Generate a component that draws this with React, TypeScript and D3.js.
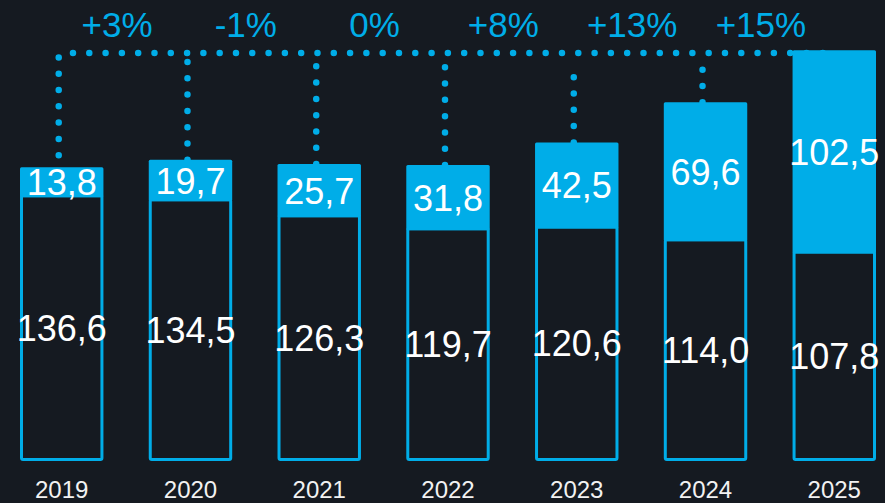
import { useEffect, useRef } from 'react'
import * as d3 from 'd3'

const years = ['2019', '2020', '2021', '2022', '2023', '2024', '2025']
const baseValues = [136.6, 134.5, 126.3, 119.7, 120.6, 114.0, 107.8]
const topValues = [13.8, 19.7, 25.7, 31.8, 42.5, 69.6, 102.5]
const changeLabels = ['+3%', '-1%', '0%', '+8%', '+13%', '+15%']

const width = 885
const height = 503
const BG = '#151a21'
const BLUE = '#00ade8'
const FONT = '"Liberation Sans", Arial, sans-serif'

const fmt = (v: number) => v.toFixed(1).replace('.', ',')

const App = () => {
  const svgRef = useRef<SVGSVGElement>(null)

  useEffect(() => {
    if (!svgRef.current) return
    const svg = d3.select(svgRef.current)
    svg.selectAll('*').remove()

    const x = d3
      .scaleBand()
      .domain(years)
      .range([20, 876])
      .paddingInner(0.352)
      .paddingOuter(0)

    const y = d3.scaleLinear().domain([0, 236]).range([461, 0])

    const data = years.map((yr, i) => ({
      year: yr,
      base: baseValues[i],
      top: topValues[i],
      total: baseValues[i] + topValues[i]
    }))

    const bw = x.bandwidth()
    const cx = (yr: string) => (x(yr) || 0) + bw / 2
    const lineY = 53

    svg.append('rect').attr('width', width).attr('height', height).attr('fill', BG)

    // dotted connectors
    const g = svg
      .append('g')
      .attr('fill', 'none')
      .attr('stroke', BLUE)
      .attr('stroke-width', 6.5)
      .attr('stroke-linecap', 'round')
      .attr('stroke-dasharray', '0 16.3')

    const first = data[0]
    const last = data[data.length - 1]
    g.append('path')
      .attr('d', `M${cx(first.year) - 3},${y(first.total) - 12} V${lineY + 4} Q${cx(first.year) - 3},${lineY} ${cx(first.year) + 8},${lineY} H${cx(last.year) + 4}`)

    g.selectAll('path.drop')
      .data(data.slice(1, -1))
      .enter()
      .append('path')
      .attr('class', 'drop')
      .attr('d', d => `M${cx(d.year) - 3},${y(d.total)} V${lineY + 8}`)

    // percent labels
    svg
      .selectAll('text.chg')
      .data(changeLabels)
      .enter()
      .append('text')
      .attr('class', 'chg')
      .attr('x', (_d, i) => (cx(years[i]) + cx(years[i + 1])) / 2 - 9)
      .attr('y', 37)
      .attr('text-anchor', 'middle')
      .attr('fill', BLUE)
      .attr('font-family', FONT)
      .attr('font-size', 35)
      .text(d => d)

    // bottom outlined segment
    svg
      .selectAll('rect.base')
      .data(data)
      .enter()
      .append('rect')
      .attr('class', 'base')
      .attr('x', d => (x(d.year) || 0) + 1.5)
      .attr('y', d => y(d.base) + 1.5)
      .attr('width', bw - 3)
      .attr('height', d => y(0) - y(d.base) - 3)
      .attr('fill', BG)
      .attr('stroke', BLUE)
      .attr('stroke-width', 3)
      .attr('rx', 1.5)

    // top filled segment
    svg
      .selectAll('rect.top')
      .data(data)
      .enter()
      .append('rect')
      .attr('class', 'top')
      .attr('x', d => x(d.year) || 0)
      .attr('y', d => y(d.total))
      .attr('width', bw)
      .attr('height', d => y(d.base) - y(d.total) + 3)
      .attr('fill', BLUE)
      .attr('rx', 1.5)

    // value labels
    svg
      .selectAll('text.topv')
      .data(data)
      .enter()
      .append('text')
      .attr('class', 'topv')
      .attr('x', d => cx(d.year))
      .attr('y', d => (y(d.total) + y(d.base) + 3) / 2 + 13)
      .attr('text-anchor', 'middle')
      .attr('fill', '#ffffff')
      .attr('font-family', FONT)
      .attr('font-size', 36)
      .text(d => fmt(d.top))

    svg
      .selectAll('text.basev')
      .data(data)
      .enter()
      .append('text')
      .attr('class', 'basev')
      .attr('x', d => cx(d.year))
      .attr('y', d => (y(d.base) + y(0)) / 2 + 13)
      .attr('text-anchor', 'middle')
      .attr('fill', '#ffffff')
      .attr('font-family', FONT)
      .attr('font-size', 36)
      .text(d => fmt(d.base))

    // year axis labels
    svg
      .selectAll('text.year')
      .data(years)
      .enter()
      .append('text')
      .attr('class', 'year')
      .attr('x', d => cx(d))
      .attr('y', 498)
      .attr('text-anchor', 'middle')
      .attr('fill', '#f2f2f2')
      .attr('font-family', FONT)
      .attr('font-size', 24)
      .text(d => d)
  }, [])

  return (
    <svg
      ref={svgRef}
      width={width}
      height={height}
      style={{ position: 'absolute', left: 0, top: 0, display: 'block' }}
    />
  )
}

export default App
